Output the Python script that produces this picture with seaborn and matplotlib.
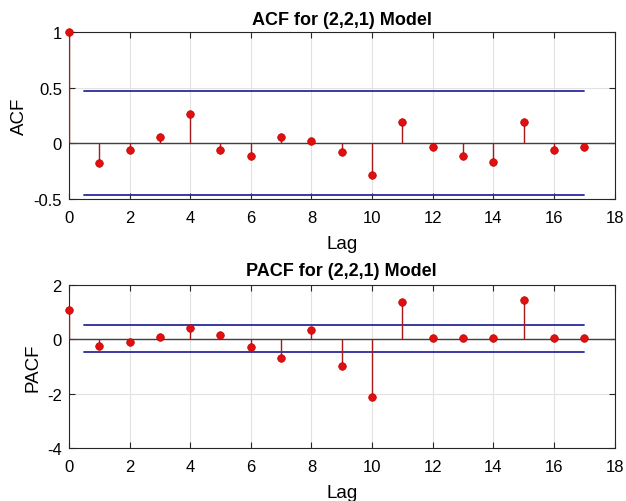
import numpy as np
import pandas as pd
import matplotlib
matplotlib.use("Agg")
import matplotlib.pyplot as plt
import seaborn as sns

lags = list(range(18))
acf_vals = [1.0, -0.18, -0.06, 0.056, 0.26, -0.06, -0.11, 0.056, 0.024, -0.08,
            -0.28, 0.19, -0.035, -0.11, -0.17, 0.19, -0.06, -0.035]
pacf_vals = [1.07, -0.23, -0.10, 0.10, 0.41, 0.15, -0.28, -0.68, 0.36, -0.98,
             -2.14, 1.36, 0.05, 0.05, 0.05, 1.44, 0.05, 0.05]
acf_bounds = [0.47, -0.465]
pacf_bounds = [0.51, -0.47]
bound_x = [0.5, 17]
titles = ["ACF for (2,2,1) Model", "PACF for (2,2,1) Model"]
ylabels = ["ACF", "PACF"]
xlabel = "Lag"
xticks = [0, 2, 4, 6, 8, 10, 12, 14, 16, 18]
acf_yticks = [-0.5, 0, 0.5, 1]
pacf_yticks = [-4, -2, 0, 2]

sns.set_style("whitegrid")
plt.rcParams['font.family'] = ['Liberation Sans', 'DejaVu Sans']
plt.rcParams['text.color'] = 'black'
plt.rcParams['axes.labelcolor'] = 'black'

fig = plt.figure(figsize=(6.26, 5.02), dpi=100)
ax1 = fig.add_axes([0.110, 0.6016, 0.872, 0.3327])
ax2 = fig.add_axes([0.110, 0.1056, 0.872, 0.3247])

panels = [
    (ax1, acf_vals, acf_bounds, acf_yticks, (-0.5, 1.0)),
    (ax2, pacf_vals, pacf_bounds, pacf_yticks, (-4, 2)),
]

for i, (ax, vals, bounds, yticks, ylim) in enumerate(panels):
    df = pd.DataFrame({"lag": lags, "val": vals})
    ax.axhline(0, color="#404040", lw=1.0, zorder=2)
    ax.vlines(df["lag"], 0, df["val"], color="#a81818", lw=1.0, zorder=3)
    for b in bounds:
        bdf = pd.DataFrame({"x": bound_x, "y": [b, b]})
        sns.lineplot(data=bdf, x="x", y="y", ax=ax, color="#2a2a9a", lw=1.3, zorder=2)
    sns.scatterplot(data=df, x="lag", y="val", ax=ax, color="#e01010", s=30,
                    edgecolor="#c00000", linewidth=0.5, zorder=4, clip_on=False)
    ax.set_xlim(0, 18)
    ax.set_ylim(*ylim)
    ax.set_xticks(xticks)
    ax.set_yticks(yticks)
    ax.set_yticklabels([f"{t:g}" for t in yticks])
    ax.grid(True, color="#e2e2e2", lw=0.8)
    for sp in ax.spines.values():
        sp.set_visible(True)
        sp.set_color("#262626")
        sp.set_linewidth(0.8)
    ax.tick_params(axis="both", direction="in", length=4, labelsize=12,
                   colors="#262626", labelcolor="black",
                   top=True, right=True, bottom=True, left=True)
    ax.tick_params(axis="x", pad=8)
    ax.tick_params(axis="y", pad=5)
    ax.set_title(titles[i], fontsize=13, fontweight="bold", color="black",
                 pad=6 if i == 0 else 7)
    ax.set_xlabel(xlabel, fontsize=13.5, labelpad=7, color="black")
    ax.set_ylabel(ylabels[i], fontsize=13.5, labelpad=4, color="black")

fig.savefig("out.png", dpi=100)
